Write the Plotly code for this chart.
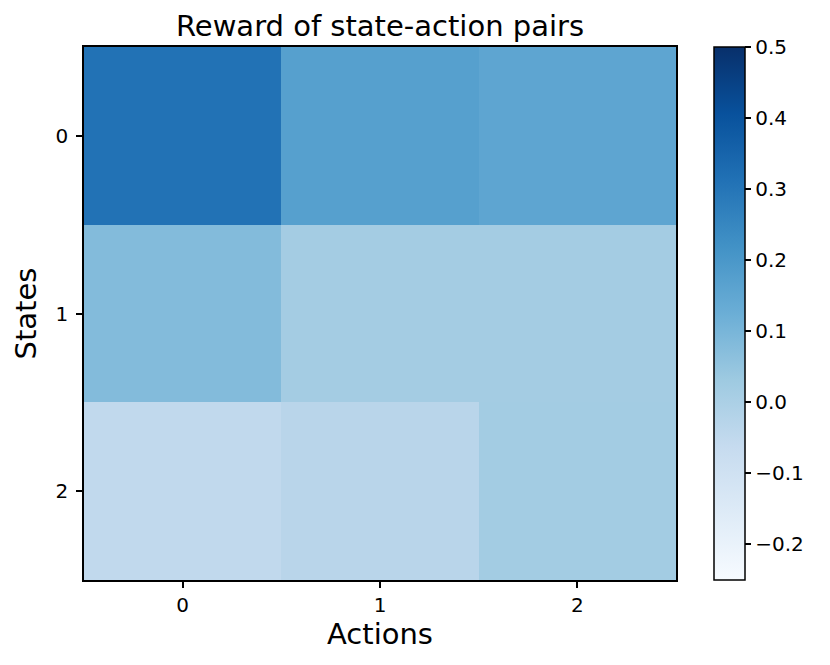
import plotly.graph_objects as go

actions = ["0", "1", "2"]
states = ["0", "1", "2"]
rewards = [
    [0.31, 0.173, 0.155],
    [0.08, 0.018, 0.018],
    [-0.05, -0.032, 0.02],
]
cbar_ticks = [-0.2, -0.1, 0.0, 0.1, 0.2, 0.3, 0.4, 0.5]
cbar_text = ["\u22120.2", "\u22120.1", "0.0", "0.1", "0.2", "0.3", "0.4", "0.5"]

blues = ["#f7fbff", "#deebf7", "#c6dbef", "#9ecae1", "#6baed6",
         "#4292c6", "#2171b5", "#08519c", "#08306b"]
cscale = [[i / 8, c] for i, c in enumerate(blues)]

font = "DejaVu Sans"
# page body has an 8px margin; size the figure so it fits the window
W, H = 822, 657
L, R, T, B = 76, 154, 39, 85
pw = W - L - R

fig = go.Figure(go.Heatmap(
    z=rewards, x=[0, 1, 2], y=[0, 1, 2],
    colorscale=cscale, zmin=-0.25, zmax=0.5,
    xgap=0, ygap=0,
    colorbar=dict(
        x=(706 - L) / pw, xanchor="left", xpad=0,
        y=0, yanchor="bottom", len=1, lenmode="fraction", ypad=0,
        thickness=31, thicknessmode="pixels",
        outlinecolor="black", outlinewidth=1.5,
        tickvals=cbar_ticks, ticktext=cbar_text,
        ticks="outside", ticklen=6, tickwidth=1.5, tickcolor="black",
        tickfont=dict(family=font, size=20, color="black"),
    ),
))

fig.update_layout(
    width=W, height=H,
    margin=dict(l=L, r=R, t=T, b=B, autoexpand=False),
    paper_bgcolor="white", plot_bgcolor="white",
    title=dict(text="Reward of state-action pairs", x=(L + pw / 2) / W, xanchor="center",
               y=1 - 18 / H, yanchor="middle",
               font=dict(family=font, size=29, color="black")),
    xaxis=dict(range=[-0.5, 2.5], tickvals=[0, 1, 2], ticktext=actions,
               showline=True, linecolor="black", linewidth=1.5, mirror=True,
               ticks="outside", ticklen=6, tickwidth=1.5, tickcolor="black",
               showgrid=False, zeroline=False,
               tickfont=dict(family=font, size=20, color="black"),
               title=dict(text="Actions", font=dict(family=font, size=29, color="black"), standoff=6)),
    yaxis=dict(range=[2.5, -0.5], tickvals=[0, 1, 2], ticktext=states,
               showline=True, linecolor="black", linewidth=1.5, mirror=True,
               ticks="outside", ticklen=6, tickwidth=1.5, tickcolor="black",
               showgrid=False, zeroline=False,
               ticklabelstandoff=4,
               tickfont=dict(family=font, size=20, color="black"),
               title=dict(text="States", font=dict(family=font, size=29, color="black"), standoff=10)),
)

fig.write_html("out.html")
